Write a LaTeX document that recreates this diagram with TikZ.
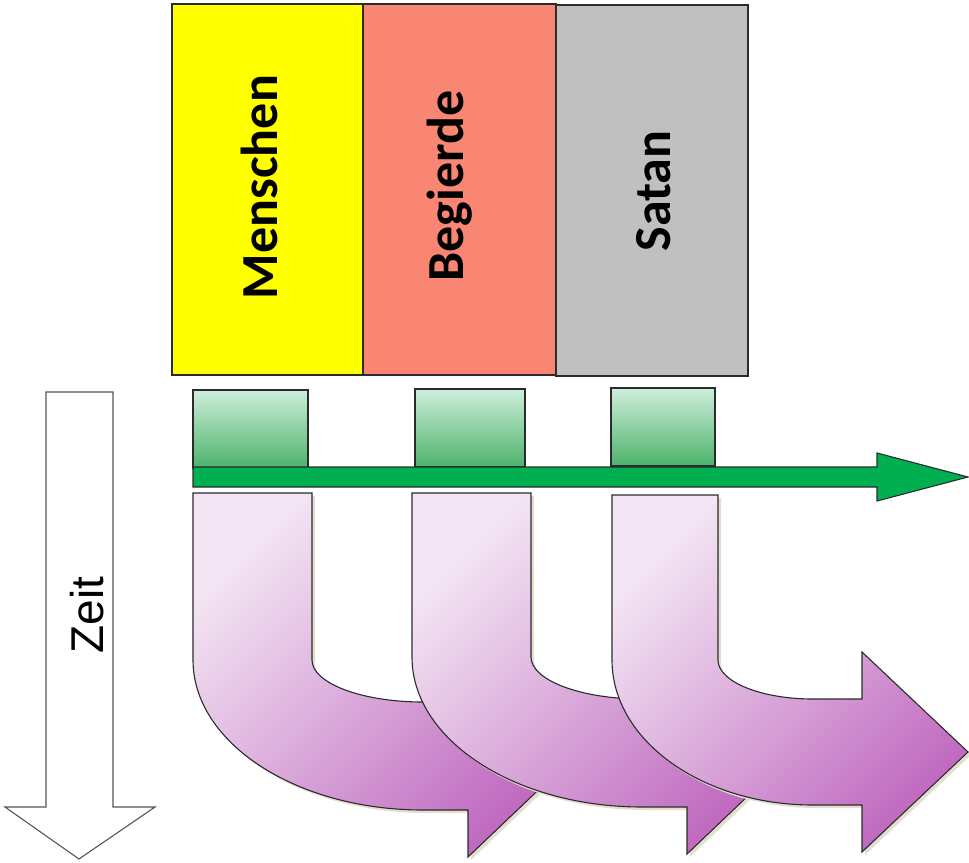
\documentclass[tikz,border=0pt]{standalone}
\usepackage{fontspec}
\setmainfont{Carlito}
\newfontfamily\zeitfont{Liberation Sans}
\usetikzlibrary{shadows}

\definecolor{edge}{HTML}{2B2B2B}
\definecolor{boxyellow}{HTML}{FFFF00}
\definecolor{boxsalmon}{HTML}{F98672}
\definecolor{boxgray}{HTML}{C0C0C0}
\definecolor{greenlight}{HTML}{CDEEDC}
\definecolor{greendark}{HTML}{4DB36A}
\definecolor{greenarrow}{HTML}{00B050}
\definecolor{purplelight}{HTML}{F3E5F3}
\definecolor{purpledark}{HTML}{C06AC0}
\definecolor{shadowcol}{HTML}{E3DFD0}

\begin{document}
\begin{tikzpicture}[x=1pt, y=-1pt, line join=miter,
  topbox/.style={draw=edge, line width=1.2pt, inner sep=0pt, outer sep=0pt,
    minimum height=371pt, anchor=north west},
  lbl/.style={font=\fontsize{52}{60}\selectfont\bfseries, rotate=90, anchor=base,
    inner sep=0pt},
  gbox/.style={draw=edge, line width=1.1pt, inner sep=0pt, outer sep=0pt,
    top color=greenlight, bottom color=greendark,
    minimum height=78pt, anchor=north west},
  bent/.style={draw=edge, line width=1.1pt,
    top color=purplelight, bottom color=purpledark, shading angle=45,
    drop shadow={shadow xshift=3pt, shadow yshift=-3pt, fill=shadowcol, opacity=1}},
  greenshaft/.style={draw=edge, line width=1.1pt, fill=greenarrow},
  zeitshape/.style={draw=edge!80, line width=1.1pt, fill=white}]

\useasboundingbox (0,0) rectangle (969,862);

% three coloured columns with their rotated titles
\node[topbox, fill=boxyellow, minimum width=191pt] (colM) at (172,4) {};
\node[topbox, fill=boxsalmon, minimum width=193pt] (colB) at (363,4) {};
\node[topbox, fill=boxgray,   minimum width=192pt] (colS) at (556,5) {};
\node[lbl] (tM) at (277,187) {Menschen};
\node[lbl] (tB) at (463,186) {Begierde};
\node[lbl] (tS) at (670,191) {Satan};

% small green blocks standing on the timeline
\node[gbox, minimum width=115pt] (g1) at (193,390) {};
\node[gbox, minimum width=110pt] (g2) at (415,389) {};
\node[gbox, minimum width=104pt] (g3) at (611,388) {};

% green horizontal arrow
\draw[greenshaft] (193,467) -- (877,467) -- (877,453) -- (968,477)
  -- (877,501) -- (877,487) -- (193,487) -- cycle;

% time arrow on the left
\draw[zeitshape] (46,392) -- (113,392) -- (113,807) -- (155,807) -- (79,859)
  -- (5,807) -- (46,807) -- cycle;
\node[font=\zeitfont\fontsize{46}{54}\selectfont, rotate=90, anchor=base,
  inner sep=0pt] (zeit) at (103,615) {Zeit};

% bent purple arrows (drawn left to right so each overlaps the previous)
\path[bent] (193,493) -- (312,493) -- (312,660)
  .. controls (312,683.2) and (361.7,702) .. (423,702)
  -- (468,702) -- (468,655) -- (574,756) -- (468,857) -- (468,810) -- (423,810)
  .. controls (296.0,810) and (193,742.8) .. (193,660) -- cycle;

\path[bent] (412,493) -- (531,493) -- (531,657)
  .. controls (531,680.2) and (580.7,699) .. (642,699)
  -- (687,699) -- (687,652) -- (793,753) -- (687,854) -- (687,807) -- (642,807)
  .. controls (515.0,807) and (412,739.8) .. (412,657) -- cycle;

\path[bent] (612,495) -- (718,495) -- (718,660)
  .. controls (718,681.5) and (760.5,699) .. (813,699)
  -- (862,699) -- (862,652) -- (968,752) -- (862,852) -- (862,805) -- (813,805)
  .. controls (702.0,805) and (612,740.1) .. (612,660) -- cycle;

\end{tikzpicture}
\end{document}
